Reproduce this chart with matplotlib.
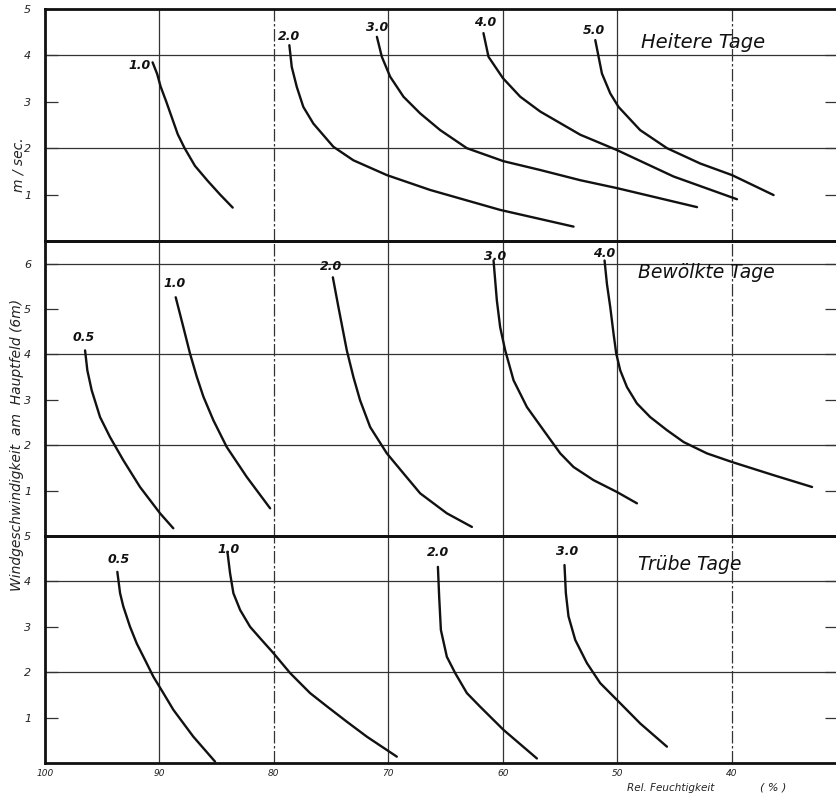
import matplotlib
matplotlib.use("Agg")
import matplotlib.pyplot as plt

# ---------------- data ----------------
# Heitere Tage
heiter_labels = ["1.0", "2.0", "3.0", "4.0", "5.0"]
heiter_x = [
    [90.6, 90.2, 89.9, 89.4, 88.9, 88.4, 87.8, 86.9, 85.8, 84.7, 83.6],
    [78.65, 78.44, 78.0, 77.43, 76.55, 74.8, 73.06, 70.13, 66.35, 60.23, 53.82],
    [71.0, 70.57, 69.84, 68.68, 67.22, 65.47, 63.14, 59.94, 56.73, 53.23, 50.03, 43.03],
    [61.69, 61.25, 59.99, 58.48, 56.73, 53.23, 50.03, 45.08, 39.54],
    [51.92, 51.63, 51.34, 50.61, 49.89, 48.0, 45.65, 42.75, 39.97, 36.34],
]
heiter_y = [
    [3.85, 3.6, 3.33, 3.0, 2.65, 2.3, 2.0, 1.62, 1.3, 1.0, 0.72],
    [4.22, 3.75, 3.32, 2.89, 2.53, 2.03, 1.74, 1.42, 1.10, 0.67, 0.31],
    [4.40, 3.97, 3.54, 3.11, 2.75, 2.39, 2.0, 1.72, 1.53, 1.31, 1.14, 0.73],
    [4.48, 3.97, 3.51, 3.11, 2.79, 2.29, 1.96, 1.39, 0.90],
    [4.33, 3.97, 3.61, 3.18, 2.89, 2.39, 2.0, 1.67, 1.42, 0.99],
]

# Bewölkte Tage
bewoelkt_labels = ["0.5", "1.0", "2.0", "3.0", "4.0"]
bewoelkt_x = [
    [96.5, 96.3, 95.92, 95.19, 94.32, 93.16, 91.7, 89.95, 88.79],
    [88.58, 87.91, 87.33, 86.74, 86.16, 85.29, 84.12, 82.37, 80.33],
    [74.85, 74.36, 73.63, 73.05, 72.47, 71.59, 70.13, 68.68, 67.22, 64.89, 62.7],
    [60.81, 60.52, 60.23, 59.79, 59.06, 57.89, 56.44, 54.98, 53.82, 52.07, 50.03, 48.28],
    [51.11, 50.9, 50.61, 50.32, 50.09, 49.74, 49.15, 48.28, 47.12, 45.65, 44.2,
     42.16, 39.97, 36.34, 32.98],
]
bewoelkt_y = [
    [4.09, 3.65, 3.21, 2.62, 2.18, 1.67, 1.08, 0.50, 0.17],
    [5.26, 4.60, 4.02, 3.51, 3.07, 2.55, 1.96, 1.30, 0.61],
    [5.70, 5.04, 4.09, 3.50, 2.99, 2.40, 1.82, 1.38, 0.94, 0.50, 0.20],
    [6.07, 5.19, 4.60, 4.09, 3.43, 2.84, 2.33, 1.82, 1.52, 1.23, 0.97, 0.72],
    [6.07, 5.55, 5.04, 4.45, 4.02, 3.65, 3.28, 2.92, 2.62, 2.33, 2.07,
     1.82, 1.63, 1.34, 1.08],
]

# Trübe Tage
truebe_labels = ["0.5", "1.0", "2.0", "3.0"]
truebe_x = [
    [93.68, 93.44, 93.16, 92.57, 91.98, 91.26, 90.53, 89.66, 88.78, 87.04, 85.14],
    [84.06, 83.83, 83.54, 82.95, 82.08, 81.21, 80.04, 78.58, 76.84, 75.38, 73.63, 71.88, 69.26],
    [65.67, 65.56, 65.41, 64.89, 64.16, 63.14, 61.98, 59.94, 57.02],
    [54.61, 54.49, 54.26, 53.67, 52.65, 51.49, 50.03, 47.99, 45.66],
]
truebe_y = [
    [4.21, 3.74, 3.45, 3.0, 2.63, 2.27, 1.90, 1.54, 1.17, 0.58, 0.03],
    [4.65, 4.18, 3.74, 3.37, 3.0, 2.75, 2.42, 1.98, 1.54, 1.25, 0.91, 0.58, 0.14],
    [4.32, 3.66, 2.93, 2.34, 1.98, 1.54, 1.24, 0.73, 0.10],
    [4.36, 3.74, 3.23, 2.71, 2.20, 1.76, 1.39, 0.87, 0.36],
]

x_ticks = [100, 90, 80, 70, 60, 50, 40]
titles = ["Heitere Tage", "Bewölkte Tage", "Trübe Tage"]

# ---------------- figure ----------------
W, H = 837, 798
fig = plt.figure(figsize=(W / 100, H / 100), dpi=100)
fig.patch.set_facecolor("white")

def rect(top_px, bot_px):
    return [45 / W, 1 - bot_px / H, 1 - 45 / W, (bot_px - top_px) / H]

ax_top = fig.add_axes(rect(9, 241))
ax_mid = fig.add_axes(rect(241, 536))
ax_bot = fig.add_axes(rect(536, 763))

panels = [
    (ax_top, 5.0, heiter_x, heiter_y, heiter_labels, range(1, 6)),
    (ax_mid, 6.5, bewoelkt_x, bewoelkt_y, bewoelkt_labels, range(1, 7)),
    (ax_bot, 5.0, truebe_x, truebe_y, truebe_labels, range(1, 6)),
]

ink = "#111111"
tfont = dict(family="DejaVu Sans", style="italic")

for i, (ax, ymax, xs, ys, labs, yt) in enumerate(panels):
    ax.set_xlim(100, 30.8)
    ax.set_ylim(0, ymax)
    # grid
    for xv in [90, 80, 70, 60, 50, 40]:
        ls = (0, (10, 2, 2, 2)) if xv in (80, 40) else "-"
        ax.axvline(xv, color="#333333", lw=0.9, ls=ls, zorder=1)
    for yv in range(2, int(ymax) + 1, 2):
        ax.axhline(yv, color="#333333", lw=0.9, zorder=1)
    # curves
    for cx, cy, lab in zip(xs, ys, labs):
        ax.plot(cx, cy, color=ink, lw=1.7, solid_capstyle="round",
                solid_joinstyle="round", zorder=3)
    # spines
    for s in ["left", "top", "bottom"]:
        ax.spines[s].set_linewidth(2.0)
        ax.spines[s].set_color(ink)
    ax.spines["right"].set_visible(False)
    ax.set_yticks(list(yt))
    ax.set_yticklabels([str(v) for v in yt], fontsize=8, color="#222222", **tfont)
    ax.tick_params(axis="y", direction="in", length=9, width=0.9, color="#333333",
                   right=True, pad=10)
    ax.set_xticks(x_ticks)
    if ax is ax_bot:
        ax.set_xticklabels([str(v) for v in x_ticks], fontsize=6.5, color="#222222", **tfont)
        ax.tick_params(axis="x", length=0, pad=4)
    else:
        ax.tick_params(axis="x", length=0, labelbottom=False)
    ax.set_facecolor("none")

# curve labels
def lab(ax, x, y, text, dx, dy, ha="center"):
    ax.annotate(text, (x, y), xytext=(dx, dy), textcoords="offset points",
                ha=ha, va="center", fontsize=9, fontweight="bold",
                color=ink, zorder=4, **tfont)

# top panel
lab(ax_top, heiter_x[0][0], heiter_y[0][0], heiter_labels[0], -1, -2, ha="right")
for k, (dx, dy) in zip(range(1, 5), [(0, 6), (0, 7), (1, 8), (-1, 7)]):
    lab(ax_top, heiter_x[k][0], heiter_y[k][0], heiter_labels[k], dx, dy)
# middle panel
for k, (dx, dy) in enumerate([(-1, 9), (-1, 10), (-1, 8), (1, 3), (0, 5)]):
    lab(ax_mid, bewoelkt_x[k][0], bewoelkt_y[k][0], bewoelkt_labels[k], dx, dy)
# bottom panel
for k, (dx, dy) in enumerate([(1, 9), (1, 2), (0, 10), (2, 10)]):
    lab(ax_bot, truebe_x[k][0], truebe_y[k][0], truebe_labels[k], dx, dy)

# panel titles
fig.text(703 / W, 1 - 42 / H, titles[0], ha="center", va="center", fontsize=14, color=ink, **tfont)
fig.text(706 / W, 1 - 273 / H, titles[1], ha="center", va="center", fontsize=13.5, color=ink, **tfont)
fig.text(690 / W, 1 - 565 / H, titles[2], ha="center", va="center", fontsize=13.5, color=ink, **tfont)

# axis labels
fig.text(18 / W, 1 - 165 / H, "m / sec.", rotation=90, ha="center", va="center",
         fontsize=10, color="#222222", **tfont)
fig.text(17 / W, 1 - 445 / H, "Windgeschwindigkeit  am  Hauptfeld (6m)", rotation=90,
         ha="center", va="center", fontsize=10, color="#222222", **tfont)
fig.text(627 / W, 1 - 788 / H, "Rel. Feuchtigkeit", ha="left", va="center",
         fontsize=7.5, color="#222222", **tfont)
fig.text(773 / W, 1 - 788 / H, "( % )", ha="center", va="center",
         fontsize=8, color="#222222", **tfont)

fig.savefig("out.png", dpi=100)
